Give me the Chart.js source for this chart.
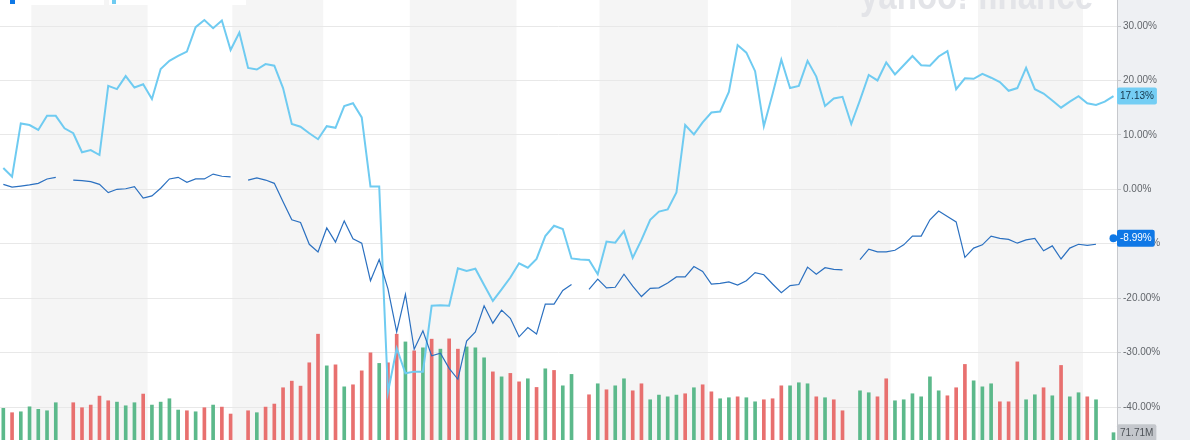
<!DOCTYPE html>
<html>
<head>
<meta charset="utf-8">
<script src="https://cdn.jsdelivr.net/npm/chart.js@4.4.1/dist/chart.umd.min.js"></script>
<style>
  html, body { margin: 0; padding: 0; background: #fff; }
  #wrap { position: relative; width: 1190px; height: 440px; }
</style>
</head>
<body>
<div id="wrap"><canvas id="chart"></canvas></div>
<script>
// % change since start, one value per trading day (null = no quote that day)
const stockPct = [
  3.9, 2.3, 12.1, 11.8, 10.9, 13.5, 13.5, 11.2, 10.3, 6.8,
  7.2, 6.3, 19.0, 18.4, 20.8, 18.7, 19.3, 16.6, 22.1, 23.6,
  24.5, 25.3, 29.8, 31.1, 29.6, 31.0, 25.6, 28.8, 22.3, 22.0,
  23.0, 22.7, 18.6, 12.0, 11.5, 10.3, 9.2, 11.6, 11.3, 15.3,
  15.8, 13.2, 0.5, 0.5, -37.3, -29.2, -33.8, -33.5, -33.5, -21.4,
  -21.3, -21.4, -14.5, -15.0, -14.6, -17.6, -20.5, -18.4, -16.2, -13.6,
  -14.4, -12.8, -8.6, -6.7, -7.3, -12.7, -12.9, -13.0, -15.6, -9.6,
  -9.8, -7.7, -12.6, -9.3, -5.6, -4.1, -3.7, -0.6, 11.8, 10.1,
  12.3, 14.1, 14.3, 17.9, 26.5, 25.1, 21.7, 11.6, 17.5, 23.8,
  18.6, 19.0, 23.6, 20.7, 15.3, 16.7, 17.0, 12.0, 16.4, 21.0,
  20.0, 23.3, 21.1, 22.8, 24.5, 22.8, 22.7, 24.4, 25.4, 18.4,
  20.4, 20.3, 21.2, 20.5, 19.7, 18.1, 18.6, 22.3, 18.4, 17.6,
  16.3, 15.0, 16.1, 17.1, 15.8, 15.5, 16.1, 17.13
];
const indexPct = [
  0.9, 0.4, 0.6, 0.8, 1.1, 1.9, 2.2, null, 1.7, 1.6,
  1.4, 0.9, -0.6, 0.0, 0.1, 0.5, -1.6, -1.2, 0.2, 1.9,
  2.2, 1.3, 1.9, 1.9, 2.8, 2.4, 2.3, null, 1.7, 2.1,
  1.7, 1.1, -2.3, -5.6, -6.1, -10.1, -11.5, -7.1, -9.7, -5.8,
  -9.1, -9.9, -16.8, -12.9, -18.3, -26.2, -19.3, -29.4, -26.0, -30.6,
  -30.1, -32.9, -34.9, -27.9, -26.2, -21.4, -24.6, -22.2, -23.7, -27.1,
  -25.4, -26.6, -21.1, -21.1, -18.6, -17.5, null, -18.4, -16.5, -18.1,
  -18.0, -15.6, -17.8, -19.7, -18.2, -18.1, -17.2, -16.1, -16.1, -14.2,
  -15.1, -17.4, -17.3, -17.0, -17.6, -16.8, -15.3, -15.7, -17.4, -19.0,
  -17.7, -17.5, -14.3, -15.6, -14.4, -14.7, -14.8, null, -12.9, -11.0,
  -11.5, -11.5, -11.2, -10.2, -8.6, -8.6, -5.6, -4.0, -5.0, -6.0,
  -12.5, -10.8, -10.2, -8.6, -9.0, -9.2, -9.9, -9.3, -9.0, -11.3,
  -10.4, -12.8, -10.8, -10.1, -10.3, -10.1, null, -8.99
];
// daily volume in millions
const volume = [
  311, 268, 277, 326, 301, 287, 366, null, 366, 317,
  343, 431, 385, 372, 336, 366, 451, 343, 372, 405,
  294, 287, 277, 317, 343, 323, 255, null, 287, 268,
  323, 353, 513, 578, 529, 758, 1039, 728, 738, 522,
  542, 679, 856, 752, 758, 1039, 963, 875, 905, 990,
  892, 993, 892, 914, 905, 807, 669, 620, 654, 571,
  601, 516, 699, 683, 532, 644, null, 444, 552, 493,
  532, 601, 483, 552, 395, 441, 424, 441, 454, 513,
  542, 473, 405, 415, 424, 415, 375, 395, 405, 532,
  532, 562, 552, 424, 415, 395, 287, null, 483, 464,
  424, 601, 385, 395, 454, 424, 620, 483, 434, 513,
  742, 581, 522, 552, 375, 375, 767, 395, 444, 513,
  434, 732, 424, 464, 424, 395, null, 71.71
];
// G = up day, R = down day, - = no bar
const volumeDir = (
  "GRGGGGG-RR" + "RRRGGGRGGG" + "GRGRGRR-RG" + "RRRRRRRGRG" + "RRRGRRGRGR" +
  "GRRGGGRGRR" + "GRGRGG-RGR" + "GGRRGGGGRG" + "RRGGRGGRRR" + "GGGRGRR-GG" +
  "RRGGGGGGRR" + "RGGGRRRGGR" + "GRGGRG-G"
).split("");
// shaded period spans, in trading-day units
const shadedSpans = [[3.2, 16.5], [26.2, 36.6], [46.5, 58.7], [68.2, 80.6], [90.1, 101.5], [111.5, 123.5]];

const FONT = '"Liberation Sans", Arial, sans-serif';
const GREEN = "#5cb98b";
const RED = "#e8706f";
const LIGHT = "#6fcbf1";
const DARK = "#2b70c0";
const DOT = "#0f78e6";

const toPoints = (arr) => arr.map((v, i) => ({ x: i, y: v }));
const last = stockPct.length - 1;

function tag(ctx, text, x, y, bg, fg) {
  ctx.font = "10px " + FONT;
  const w = ctx.measureText(text).width + 6;
  const h = 17;
  ctx.fillStyle = bg;
  ctx.beginPath();
  ctx.roundRect(x, y - h / 2, w, h, 2);
  ctx.fill();
  ctx.fillStyle = fg;
  ctx.textAlign = "left";
  ctx.textBaseline = "middle";
  ctx.fillText(text, x + 3, y + 0.5);
}

const backdrop = {
  id: "backdrop",
  beforeDraw(chart) {
    const { ctx, chartArea: a, scales: { x } } = chart;
    ctx.save();
    ctx.fillStyle = "#ffffff";
    ctx.fillRect(0, 0, chart.width, chart.height);
    ctx.fillStyle = "#f5f5f5";
    shadedSpans.forEach(([s, e]) => {
      const x0 = x.getPixelForValue(s);
      const x1 = x.getPixelForValue(e);
      ctx.fillRect(x0, a.top, x1 - x0, a.bottom - a.top);
    });
    // right axis panel
    ctx.fillStyle = "#eef0f3";
    ctx.fillRect(a.right, 0, chart.width - a.right, chart.height);
    // watermark, clipped at the top edge
    ctx.font = "bold 40px " + FONT;
    const ww = ctx.measureText("yahoo! finance").width;
    ctx.save();
    ctx.translate(860, 9);
    ctx.scale(233 / ww, 1);
    ctx.fillStyle = "#e3e4e8";
    ctx.textBaseline = "alphabetic";
    ctx.fillText("yahoo! finance", 0, 0);
    ctx.restore();
    // legend pills, cut off at the top
    ctx.fillStyle = "#ffffff";
    ctx.fillRect(0, 0, 104, 5);
    ctx.fillRect(109, 0, 137, 5);
    ctx.fillStyle = DOT;
    ctx.fillRect(10, 0, 5, 4);
    ctx.fillStyle = LIGHT;
    ctx.fillRect(112, 0, 4, 4);
    ctx.restore();
  },
  afterDraw(chart) {
    const { ctx, chartArea: a, scales: { y, vol } } = chart;
    ctx.save();
    tag(ctx, stockPct[last].toFixed(2) + "%", a.right, y.getPixelForValue(stockPct[last]), "#74cef4", "#16364a");
    tag(ctx, indexPct[last].toFixed(2) + "%", a.right, y.getPixelForValue(indexPct[last]), DOT, "#ffffff");
    tag(ctx, volume[last].toFixed(2) + "M", a.right, vol.getPixelForValue(volume[last]), "#c4c7cc", "#4d5257");
    ctx.restore();
  }
};

new Chart(document.getElementById("chart"), {
  type: "bar",
  plugins: [backdrop],
  data: {
    datasets: [
      {
        type: "line",
        data: toPoints(indexPct),
        borderColor: DARK,
        borderWidth: 1.2,
        spanGaps: false,
        pointRadius: (c) => (c.dataIndex === last ? 4 : 0),
        pointBackgroundColor: DOT,
        pointBorderColor: DOT,
        pointBorderWidth: 0,
        tension: 0,
        yAxisID: "y",
        order: 1
      },
      {
        type: "line",
        data: toPoints(stockPct),
        borderColor: LIGHT,
        borderWidth: 2,
        pointRadius: 0,
        spanGaps: true,
        tension: 0,
        yAxisID: "y",
        order: 2
      },
      {
        type: "bar",
        data: toPoints(volume),
        backgroundColor: volumeDir.map((d) => (d === "G" ? GREEN : RED)),
        barThickness: 3,
        yAxisID: "vol",
        order: 3
      }
    ]
  },
  options: {
    responsive: true,
    maintainAspectRatio: false,
    animation: false,
    layout: { padding: 0, autoPadding: false },
    plugins: { legend: { display: false }, tooltip: { enabled: false } },
    scales: {
      x: {
        type: "linear",
        min: -0.38,
        max: 127.4,
        offset: false,
        display: false
      },
      vol: {
        type: "linear",
        min: 0,
        max: 4320,
        display: false
      },
      y: {
        position: "right",
        min: -46.06,
        max: 34.78,
        afterFit(s) {
          s.width = 73;
          s.paddingTop = 0;
          s.paddingBottom = 0;
        },
        border: { display: true, color: "#c6c8cc" },
        grid: { color: "#e8e8e8", drawTicks: true, tickLength: 4, tickColor: "#c6c8cc" },
        ticks: {
          stepSize: 10,
          includeBounds: false,
          padding: 2,
          color: "#62666b",
          font: { family: FONT, size: 10 },
          callback: (v) => v.toFixed(2) + "%"
        }
      }
    }
  }
});
</script>
</body>
</html>
